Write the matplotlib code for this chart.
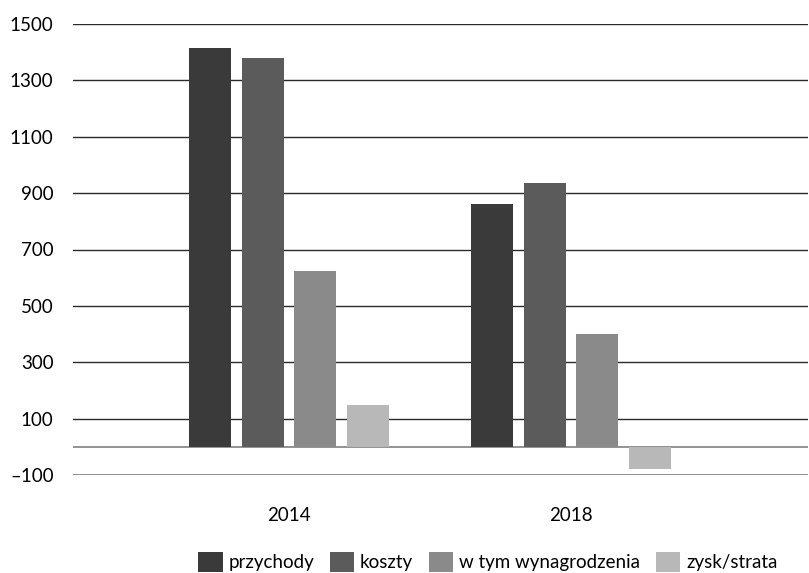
import numpy as np
import matplotlib.pyplot as plt
from matplotlib.patches import Patch

plt.rcParams['font.family'] = ['Lato', 'DejaVu Sans']

years = ['2014', '2018']
series = ['przychody', 'koszty', 'w tym wynagrodzenia', 'zysk/strata']
przychody = [1415, 860]
koszty = [1380, 935]
wynagrodzenia = [625, 400]
zysk = [150, -80]
colors = ['#3a3a3a', '#5b5b5b', '#8a8a8a', '#b8b8b8']

values = [przychody, koszty, wynagrodzenia, zysk]

fig = plt.figure(figsize=(8.09, 5.73), dpi=100)
ax = fig.add_axes([73/809, 1 - 475/573, 735/809, 451/573])

x = np.arange(len(years))
width = 0.149
step = 0.187
for i, (vals, c) in enumerate(zip(values, colors)):
    ax.bar(x + (i - 1.5) * step, vals, width, color=c, zorder=3)

yt = list(range(-100, 1501, 200))
ax.set_ylim(-100, 1500)
ax.set_yticks(yt)
ax.set_yticklabels([str(v).replace('-', '\u2013') for v in yt], fontsize=13.5)
for v in yt:
    ax.axhline(v, color='#2a2a2a', lw=1.0, zorder=1)
ax.axhline(0, color='#8a8a8a', lw=1.3, zorder=2)
ax.axhline(-100, color='#8a8a8a', lw=1.3, zorder=2)

ax.set_xlim(-0.766, 1.84)
ax.set_xticks(x)
ax.set_xticklabels(years, fontsize=13.5)
ax.tick_params(length=0)
ax.tick_params(axis='y', pad=14)
ax.tick_params(axis='x', pad=23)
for s in ax.spines.values():
    s.set_visible(False)

handles = [Patch(facecolor=c, label=s) for s, c in zip(series, colors)]
fig.legend(handles=handles, loc='center', bbox_to_anchor=(0.603, 0.019), ncol=4,
           frameon=False, fontsize=13.5, handlelength=1.3, handleheight=1.3,
           handletextpad=0.3, columnspacing=0.85)

fig.savefig('out.png', dpi=100)
